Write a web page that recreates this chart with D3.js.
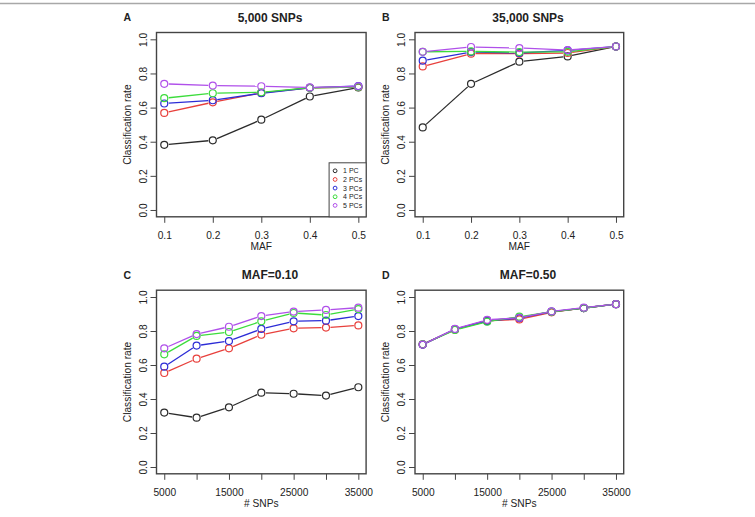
<!DOCTYPE html>
<html>
<head>
<meta charset="utf-8">
<script src="https://cdn.jsdelivr.net/npm/d3@7"></script>
<style>
  body { margin: 0; background: #fff; }
  text { font-family: "Liberation Sans", Arial, sans-serif; fill: #222; }
</style>
</head>
<body>
<script>
var width = 755
var height = 517

// x values
var mafLevels = [0.1, 0.2, 0.3, 0.4, 0.5]
var snpCounts = [5000, 10000, 15000, 20000, 25000, 30000, 35000]
var mafTickLabels = ["0.1", "0.2", "0.3", "0.4", "0.5"]
var snpTickLabels = ["5000", "", "15000", "", "25000", "", "35000"]
var rateTicks = [0, 0.2, 0.4, 0.6, 0.8, 1.0]
var rateTickLabels = ["0.0", "0.2", "0.4", "0.6", "0.8", "1.0"]

var seriesNames = ["1 PC", "2 PCs", "3 PCs", "4 PCs", "5 PCs"]
var seriesColors = ["#2b2b2b", "#e8403c", "#2c2cd6", "#3cdc3c", "#b050ea"]

// 5,000 SNPs, by MAF (one row per number of PCs)
var rates5000 = [
    [0.382, 0.408, 0.529, 0.665, 0.718],
    [0.569, 0.631, 0.686, 0.716, 0.720],
    [0.624, 0.643, 0.684, 0.716, 0.726],
    [0.655, 0.684, 0.690, 0.716, 0.720],
    [0.739, 0.729, 0.725, 0.718, 0.724]
]
// 35,000 SNPs, by MAF
var rates35000 = [
    [0.484, 0.739, 0.869, 0.900, 0.958],
    [0.841, 0.916, 0.916, 0.920, 0.958],
    [0.875, 0.925, 0.920, 0.935, 0.958],
    [0.927, 0.929, 0.925, 0.927, 0.958],
    [0.927, 0.955, 0.949, 0.937, 0.958]
]
// MAF = 0.10, by number of SNPs
var ratesMaf010 = [
    [0.320, 0.290, 0.351, 0.437, 0.431, 0.420, 0.469],
    [0.553, 0.637, 0.698, 0.778, 0.816, 0.820, 0.833],
    [0.590, 0.714, 0.741, 0.812, 0.857, 0.861, 0.888],
    [0.663, 0.771, 0.794, 0.857, 0.906, 0.894, 0.929],
    [0.698, 0.782, 0.825, 0.888, 0.914, 0.924, 0.937]
]
// MAF = 0.50, by number of SNPs
var ratesMaf050 = [
    [0.720, 0.810, 0.862, 0.878, 0.912, 0.935, 0.958],
    [0.722, 0.808, 0.860, 0.868, 0.910, 0.935, 0.958],
    [0.720, 0.810, 0.858, 0.876, 0.914, 0.935, 0.958],
    [0.722, 0.806, 0.855, 0.884, 0.913, 0.935, 0.958],
    [0.720, 0.812, 0.866, 0.878, 0.915, 0.937, 0.958]
]

var panels = [
    { letter: "A", title: "5,000 SNPs", xs: mafLevels, xLabels: mafTickLabels, xTitle: "MAF",
      rows: rates5000, left: 156.5, right: 366.1, top: 32.5, bottom: 216.8, legend: true },
    { letter: "B", title: "35,000 SNPs", xs: mafLevels, xLabels: mafTickLabels, xTitle: "MAF",
      rows: rates35000, left: 415, right: 623.7, top: 32.5, bottom: 216.8 },
    { letter: "C", title: "MAF=0.10", xs: snpCounts, xLabels: snpTickLabels, xTitle: "# SNPs",
      rows: ratesMaf010, left: 156.5, right: 366.1, top: 290.2, bottom: 473.8 },
    { letter: "D", title: "MAF=0.50", xs: snpCounts, xLabels: snpTickLabels, xTitle: "# SNPs",
      rows: ratesMaf050, left: 415, right: 623.7, top: 290.2, bottom: 473.8 }
]

var svg = d3.select("body").append("svg")
    .attr("width", width)
    .attr("height", height)

// frame line on top
svg.append("line")
    .attr("x1", 0).attr("x2", width)
    .attr("y1", 3.5).attr("y2", 3.5)
    .attr("stroke", "#a8a8a8")
    .attr("stroke-width", 1.5)

// R style: extend range 4% on each side
function padDomain(vals) {
    var lo = d3.min(vals), hi = d3.max(vals)
    var pad = (hi - lo) * 0.04
    return [lo - pad, hi + pad]
}

function drawPanel(p) {
    var g = svg.append("g")
    var xScale = d3.scaleLinear().domain(padDomain(p.xs)).range([p.left, p.right])
    var yScale = d3.scaleLinear().domain(padDomain([0, 1])).range([p.bottom, p.top])

    var xAxis = d3.axisBottom(xScale)
        .tickValues(p.xs)
        .tickSize(6)
        .tickFormat(function (d, i) { return p.xLabels[i] })
    var yAxis = d3.axisLeft(yScale)
        .tickValues(rateTicks)
        .tickSize(6)
        .tickFormat(function (d, i) { return rateTickLabels[i] })

    var gx = g.append("g")
        .attr("transform", "translate(0," + p.bottom + ")")
        .call(xAxis)
    gx.select(".domain").remove()
    gx.selectAll("line").attr("stroke", "#444")
    gx.selectAll("text")
        .attr("y", 22.5).attr("dy", 0)
        .attr("font-size", 10.2).attr("fill", "#222")
        .style("font-family", "Liberation Sans, Arial, sans-serif")

    var gy = g.append("g")
        .attr("transform", "translate(" + p.left + ",0)")
        .call(yAxis)
    gy.select(".domain").remove()
    gy.selectAll("line").attr("stroke", "#444")
    gy.selectAll("text")
        .attr("transform", "rotate(-90)")
        .attr("x", 0).attr("y", -10).attr("dy", 0)
        .attr("text-anchor", "middle")
        .attr("font-size", 10.2).attr("fill", "#222")
        .style("font-family", "Liberation Sans, Arial, sans-serif")

    // plot box
    g.append("rect")
        .attr("x", p.left).attr("y", p.top)
        .attr("width", p.right - p.left).attr("height", p.bottom - p.top)
        .attr("fill", "none")
        .attr("stroke", "#444")
        .attr("stroke-width", 1.4)

    // titles
    g.append("text")
        .attr("x", (p.left + p.right) / 2 + 8.7)
        .attr("y", p.top - 11)
        .attr("text-anchor", "middle")
        .attr("font-size", 12).attr("font-weight", "bold")
        .text(p.title)
    g.append("text")
        .attr("x", p.left - 33)
        .attr("y", p.top - 11.5)
        .attr("font-size", 10.5).attr("font-weight", "bold")
        .text(p.letter)
    g.append("text")
        .attr("x", (p.left + p.right) / 2)
        .attr("y", p.bottom + 33.5)
        .attr("text-anchor", "middle")
        .attr("font-size", 10.2)
        .text(p.xTitle)
    g.append("text")
        .attr("transform", "rotate(-90)")
        .attr("x", -(p.top + p.bottom) / 2)
        .attr("y", p.left - 26)
        .attr("text-anchor", "middle")
        .attr("font-size", 10.2)
        .text("Classification rate")

    // series: type="b" lines (gaps around points) + open circles
    var r = 3.5
    p.rows.forEach(function (row, s) {
        var pts = row.map(function (v, i) { return [xScale(p.xs[i]), yScale(v)] })
        var segs = d3.pairs(pts).map(function (pair) {
            var a = pair[0], b = pair[1]
            var dx = b[0] - a[0], dy = b[1] - a[1]
            var len = Math.sqrt(dx * dx + dy * dy)
            var gap = r + 1
            if (len <= 2 * gap) return null
            var ux = dx / len, uy = dy / len
            return [a[0] + ux * gap, a[1] + uy * gap, b[0] - ux * gap, b[1] - uy * gap]
        }).filter(function (d) { return d })

        g.append("g").selectAll("line")
            .data(segs)
            .enter().append("line")
            .attr("x1", function (d) { return d[0] })
            .attr("y1", function (d) { return d[1] })
            .attr("x2", function (d) { return d[2] })
            .attr("y2", function (d) { return d[3] })
            .attr("stroke", seriesColors[s])
            .attr("stroke-width", 1.3)

        g.append("g").selectAll("circle")
            .data(pts)
            .enter().append("circle")
            .attr("cx", function (d) { return d[0] })
            .attr("cy", function (d) { return d[1] })
            .attr("r", r)
            .attr("fill", "none")
            .attr("stroke", seriesColors[s])
            .attr("stroke-width", 1.2)
    })

    if (p.legend) {
        var lg = g.append("g")
        lg.append("rect")
            .attr("x", p.right - 37).attr("y", p.bottom - 54)
            .attr("width", 37).attr("height", 54)
            .attr("fill", "#fff")
            .attr("stroke", "#444")
            .attr("stroke-width", 1)
        seriesNames.forEach(function (name, s) {
            var yy = p.bottom - 46 + s * 8.65
            lg.append("circle")
                .attr("cx", p.right - 31).attr("cy", yy)
                .attr("r", 1.9)
                .attr("fill", "none")
                .attr("stroke", seriesColors[s])
                .attr("stroke-width", 1)
            lg.append("text")
                .attr("x", p.right - 23).attr("y", yy + 2.4)
                .attr("font-size", 7)
                .text(name)
        })
    }
}

panels.forEach(drawPanel)
</script>
</body>
</html>
